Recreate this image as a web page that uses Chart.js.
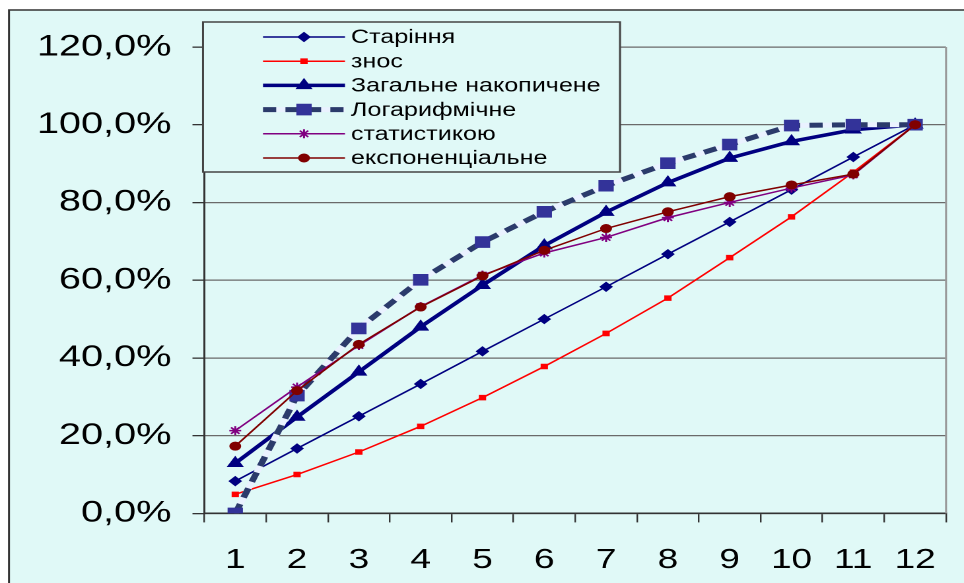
<!DOCTYPE html>
<html lang="uk">
<head>
<meta charset="UTF-8">
<title>Накопичене старіння</title>
<script src="https://cdn.jsdelivr.net/npm/chart.js"></script>
<style>
    html, body { margin: 0; padding: 0; background: #fff; overflow: hidden; }
    /* the original picture is stretched sideways, so the whole chart is too */
    #wrap {
        position: absolute; left: 0; top: 0;
        width: 730px; height: 583px;
        transform: scaleX(1.3205); transform-origin: 0 0;
    }
</style>
</head>
<body>
<div id="wrap"><canvas id="chart"></canvas></div>
<script>
// дані (%)
const years = ['1', '2', '3', '4', '5', '6', '7', '8', '9', '10', '11', '12'];
const starinnya  = [8.3, 16.7, 25.0, 33.3, 41.7, 50.0, 58.3, 66.7, 75.0, 83.3, 91.7, 100];
const znos       = [4.9, 10.0, 15.8, 22.4, 29.8, 37.8, 46.3, 55.4, 65.8, 76.3, 87.8, 100];
const zahalne    = [12.9, 24.8, 36.4, 48.0, 58.7, 68.9, 77.5, 85.1, 91.4, 95.7, 98.7, 100];
const logaryfm   = [0, 30.3, 47.6, 60.1, 69.8, 77.6, 84.3, 90.1, 94.9, 99.8, 100, 100];
const statystyka = [21.3, 32.5, 43.2, 53.2, 61.3, 67.0, 71.0, 76.1, 80.0, 83.7, 87.1, 100];
const exponenta  = [17.3, 31.6, 43.5, 53.1, 61.1, 67.7, 73.3, 77.6, 81.5, 84.5, 87.3, 100];
const yTicks = [0, 20, 40, 60, 80, 100, 120];

const FONT = "'Liberation Sans', Arial, sans-serif";
const BG = '#e0f9f7';
const SX = 1.3205; // горизонтальне розтягування

// фон і рамка
const framePlugin = {
    id: 'frame',
    beforeDraw(chart) {
        const ctx = chart.ctx;
        ctx.save();
        ctx.fillStyle = '#fff';
        ctx.fillRect(0, 0, chart.width, chart.height);
        ctx.fillStyle = BG;
        ctx.fillRect(9 / SX, 10, chart.width, chart.height);
        ctx.strokeStyle = '#333';
        ctx.lineWidth = 1.5;
        ctx.strokeRect(9 / SX, 10, chart.width + 20, chart.height + 20);
        ctx.restore();
    },
    beforeDatasetsDraw(chart) {
        const a = chart.chartArea, ctx = chart.ctx;
        ctx.save();
        ctx.strokeStyle = '#999';
        ctx.lineWidth = 1.5;
        ctx.beginPath();
        ctx.moveTo(a.right, a.top);
        ctx.lineTo(a.right, a.bottom);
        ctx.stroke();
        ctx.restore();
    }
};

// легенда в рамці поверх області побудови
const legendPlugin = {
    id: 'boxLegend',
    afterDraw(chart) {
        const ctx = chart.ctx;
        const x0 = 203 / SX, x1 = 620 / SX;
        ctx.save();
        ctx.fillStyle = BG;
        ctx.fillRect(x0, 22, x1 - x0, 150);
        ctx.strokeStyle = '#444';
        ctx.lineWidth = 1.5;
        ctx.strokeRect(x0, 22, x1 - x0, 150);

        const items = chart.data.datasets.filter(d => !d.hidden && d.label);
        items.forEach((ds, i) => {
            const y = 37 + i * 24.2;
            const lx1 = 263 / SX, lx2 = 345 / SX, mx = 304 / SX;
            ctx.save();
            if (ds.underlay) {
                ctx.strokeStyle = ds.underlay;
                ctx.lineWidth = ds.borderWidth;
                ctx.beginPath(); ctx.moveTo(lx1, y); ctx.lineTo(lx2, y); ctx.stroke();
            }
            ctx.strokeStyle = ds.borderColor;
            ctx.lineWidth = ds.borderWidth;
            ctx.setLineDash(ds.borderDash || []);
            ctx.beginPath(); ctx.moveTo(lx1, y); ctx.lineTo(lx2, y); ctx.stroke();
            ctx.setLineDash([]);
            ctx.fillStyle = ds.pointBackgroundColor;
            ctx.strokeStyle = ds.pointBorderColor;
            ctx.lineWidth = ds.pointBorderWidth;
            Chart.helpers.drawPoint(ctx, {
                pointStyle: ds.pointStyle, radius: ds.pointRadius,
                borderWidth: ds.pointBorderWidth, rotation: 0
            }, mx, y);
            ctx.restore();

            ctx.fillStyle = '#000';
            ctx.font = '19px ' + FONT;
            ctx.textBaseline = 'middle';
            ctx.fillText(ds.label, 351 / SX, y + 1);
        });
        ctx.restore();
    }
};

function series(label, data, color, width, style, radius, fill, order) {
    return {
        label: label, data: data,
        borderColor: color, borderWidth: width,
        pointStyle: style, pointRadius: radius, pointHoverRadius: radius,
        pointBackgroundColor: fill, pointBorderColor: fill, pointBorderWidth: 1,
        tension: 0, fill: false, order: order
    };
}

const dsLog = series('Логарифмічне', logaryfm, '#2b3b6b', 5, 'rect', 7.5, '#333399', 3);
dsLog.borderDash = [10, 7];
dsLog.underlay = '#eaf2ff';

const dsStat = series('статистикою', statystyka, '#800080', 1.5, 'star', 4.5, '#800080', 2);
dsStat.pointBorderWidth = 1.5;

const chart = new Chart(document.getElementById('chart'), {
    type: 'line',
    data: {
        labels: years,
        datasets: [
            series('Старіння', starinnya, '#000080', 1.5, 'rectRot', 4.5, '#000080', 6),
            series('знос', znos, '#ff0000', 1.5, 'rect', 3.2, '#ff0000', 5),
            series('Загальне накопичене', zahalne, '#000080', 3.5, 'triangle', 6.5, '#000080', 4),
            // світла підкладка під пунктир логарифмічної кривої
            { data: logaryfm, borderColor: '#eaf2ff', borderWidth: 5, pointRadius: 0, tension: 0, order: 3.5 },
            dsLog,
            dsStat,
            series('експоненціальне', exponenta, '#800000', 1.5, 'circle', 4, '#800000', 1)
        ]
    },
    options: {
        responsive: true,
        maintainAspectRatio: false,
        animation: false,
        devicePixelRatio: 2,
        layout: { padding: { left: 12, right: 10, top: 47, bottom: -15 } },
        plugins: { legend: { display: false }, tooltip: { enabled: false } },
        scales: {
            x: {
                offset: true,
                grid: { offset: true, drawOnChartArea: false, drawTicks: true, tickLength: 9, tickColor: '#333', lineWidth: 1.2 },
                border: { color: '#333', width: 1.5 },
                ticks: { color: '#000', font: { family: FONT, size: 28 }, padding: 21, maxRotation: 0, autoSkip: false }
            },
            y: {
                min: 0, max: 120,
                afterBuildTicks: axis => { axis.ticks = yTicks.map(v => ({ value: v })); },
                grid: { color: '#6a6a6a', lineWidth: 1.3, tickLength: 9, tickColor: '#333' },
                border: { color: '#333', width: 1.5 },
                ticks: {
                    color: '#000', font: { family: FONT, size: 30 }, padding: 16,
                    callback: v => v.toFixed(1).replace('.', ',') + '%'
                }
            }
        }
    },
    plugins: [framePlugin, legendPlugin]
});
</script>
</body>
</html>
